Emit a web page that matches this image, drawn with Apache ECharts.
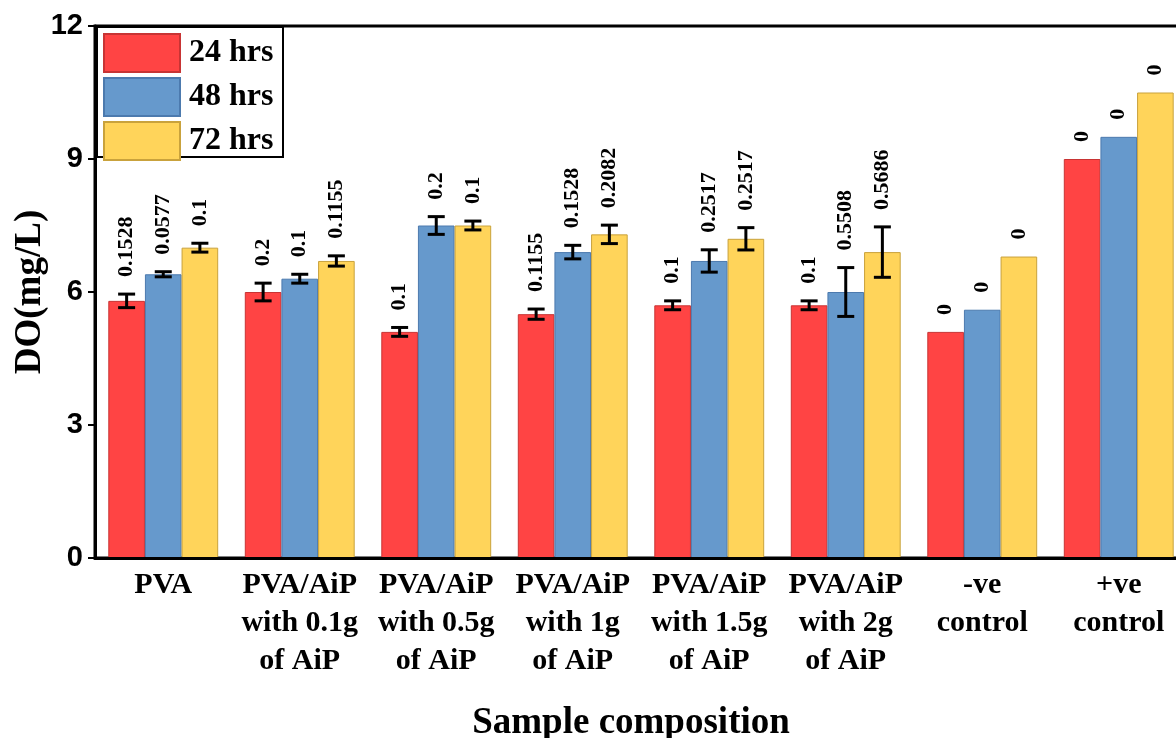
<!DOCTYPE html>
<html>
<head>
<meta charset="utf-8">
<script src="https://cdn.jsdelivr.net/npm/echarts@6/dist/echarts.min.js"></script>
<style>
  html, body { margin: 0; padding: 0; background: #fff; }
  #chart { width: 1176px; height: 738px; }
</style>
</head>
<body>
<div id="chart"></div>
<script>
// Dissolved oxygen per sample composition after 24, 48 and 72 hours
const categories = [
  'PVA',
  'PVA/AiP\nwith 0.1g\nof AiP',
  'PVA/AiP\nwith 0.5g\nof AiP',
  'PVA/AiP\nwith 1g\nof AiP',
  'PVA/AiP\nwith 1.5g\nof AiP',
  'PVA/AiP\nwith 2g\nof AiP',
  '-ve\ncontrol',
  '+ve\ncontrol'
];
const seriesNames = ['24 hrs', '48 hrs', '72 hrs'];

// mean DO (mg/L)
const do24 = [5.8, 6.0, 5.1, 5.5, 5.7, 5.7, 5.1, 9.0];
const do48 = [6.4, 6.3, 7.5, 6.9, 6.7, 6.0, 5.6, 9.5];
const do72 = [7.0, 6.7, 7.5, 7.3, 7.2, 6.9, 6.8, 10.5];

// standard deviations
const sd24 = [0.1528, 0.2, 0.1, 0.1155, 0.1, 0.1, 0, 0];
const sd48 = [0.0577, 0.1, 0.2, 0.1528, 0.2517, 0.5508, 0, 0];
const sd72 = [0.1, 0.1155, 0.1, 0.2082, 0.2517, 0.5686, 0, 0];

const yTicks = [0, 3, 6, 9, 12];

const fills = ['#FF4444', '#6699CC', '#FFD45A'];
const edges = ['#C83434', '#4C7AAE', '#C9A23C'];

const SERIF = '"Times New Roman", "Liberation Serif", serif';
const SANS = 'Arial, "Liberation Sans", sans-serif';
const CAT_GAP = 0.195;

const means = [do24, do48, do72];
const sds = [sd24, sd48, sd72];

const chart = echarts.init(document.getElementById('chart'), null, { renderer: 'canvas' });

// error bar with caps plus the rotated SD label above it
function errorRenderer(k) {
  return function (params, api) {
    const i = api.value(0);
    const v = api.value(1);
    const sd = api.value(2);
    const band = api.size([1, 0])[0];
    const bw = band * (1 - CAT_GAP) / 3;
    const center = api.coord([i, v]);
    const x = center[0] + (k - 1) * bw;
    const yHi = api.coord([i, v + sd])[1];
    const yLo = api.coord([i, v - sd])[1];
    const cap = 8.5;
    const children = [];
    if (sd > 0) {
      const ls = { stroke: '#000', lineWidth: 3 };
      children.push({ type: 'line', shape: { x1: x, y1: yHi, x2: x, y2: yLo }, style: ls });
      children.push({ type: 'line', shape: { x1: x - cap, y1: yHi, x2: x + cap, y2: yHi }, style: ls });
      children.push({ type: 'line', shape: { x1: x - cap, y1: yLo, x2: x + cap, y2: yLo }, style: ls });
    }
    children.push({
      type: 'text',
      x: x,
      y: yHi - 17,
      rotation: Math.PI / 2,
      style: {
        text: String(sd),
        fill: '#000',
        font: 'bold 22px ' + SERIF,
        align: 'left',
        verticalAlign: 'middle'
      }
    });
    return { type: 'group', children: children };
  };
}

const barSeries = seriesNames.map((name, k) => ({
  name: name,
  type: 'bar',
  data: means[k],
  barGap: '0%',
  barCategoryGap: (CAT_GAP * 100) + '%',
  itemStyle: { color: fills[k], borderColor: edges[k], borderWidth: 1 },
  z: 2
}));

const errSeries = seriesNames.map((name, k) => ({
  type: 'custom',
  renderItem: errorRenderer(k),
  data: means[k].map((v, i) => [i, v, sds[k][i]]),
  encode: { x: 0, y: 1 },
  z: 5,
  silent: true
}));

chart.setOption({
  animation: false,
  backgroundColor: '#fff',
  grid: {
    left: 95, top: 26, width: 1092, height: 532,
    outerBoundsMode: 'none',
    containLabel: false,
    show: true, borderColor: '#000', borderWidth: 3
  },
  legend: {
    orient: 'vertical',
    left: 103, top: 33,
    padding: 0,
    itemGap: 4,
    itemWidth: 76,
    itemHeight: 38,
    icon: 'rect',
    selectedMode: false,
    data: seriesNames,
    textStyle: {
      fontFamily: SERIF, fontWeight: 'bold', fontSize: 32, color: '#000',
      padding: [0, 0, 0, 4]
    },
    z: 6
  },
  graphic: [{
    type: 'rect',
    shape: { x: 97, y: 27, width: 186, height: 130 },
    style: { fill: '#fff', stroke: '#000', lineWidth: 2 },
    z: 5
  }],
  xAxis: {
    type: 'category',
    data: categories,
    z: 10,
    name: 'Sample composition',
    nameLocation: 'middle',
    nameGap: 147,
    nameMoveOverlap: false,
    nameTextStyle: {
      fontFamily: SERIF, fontWeight: 'bold', fontSize: 37, color: '#000',
      padding: [0, 20, 0, 0]
    },
    axisLine: { lineStyle: { color: '#000', width: 3 } },
    axisTick: { inside: true, alignWithLabel: true, length: 7, lineStyle: { color: '#000', width: 2 } },
    axisLabel: {
      interval: 0, margin: 8,
      fontFamily: SERIF, fontWeight: 'bold', fontSize: 30, lineHeight: 38, color: '#000'
    },
    splitLine: { show: false }
  },
  yAxis: {
    type: 'value',
    min: yTicks[0],
    max: yTicks[yTicks.length - 1],
    interval: yTicks[1] - yTicks[0],
    z: 10,
    name: 'DO(mg/L)',
    nameLocation: 'middle',
    nameGap: 46,
    nameMoveOverlap: false,
    nameTextStyle: { fontFamily: SERIF, fontWeight: 'bold', fontSize: 37, color: '#000' },
    axisLine: { show: true, lineStyle: { color: '#000', width: 3 } },
    axisTick: { show: true, inside: false, length: 7, lineStyle: { color: '#000', width: 2 } },
    axisLabel: { margin: 12, fontFamily: SANS, fontWeight: 'bold', fontSize: 29, color: '#000' },
    splitLine: { show: false }
  },
  series: barSeries.concat(errSeries)
});
</script>
</body>
</html>
